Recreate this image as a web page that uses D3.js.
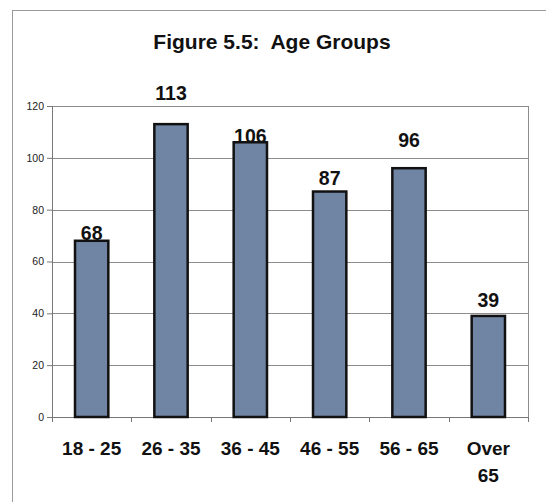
<!DOCTYPE html>
<html>
<head>
<meta charset="utf-8">
<script src="https://cdn.jsdelivr.net/npm/d3@7"></script>
<style>
  body { margin: 0; background: #fff; }
  svg { display: block; font-family: "Liberation Sans", Arial, sans-serif; }
</style>
</head>
<body>
<div id="chart"></div>
<script>
const title = "Figure 5.5:  Age Groups";
const categories = [["18 - 25"], ["26 - 35"], ["36 - 45"], ["46 - 55"], ["56 - 65"], ["Over", "65"]];
const counts = [68, 113, 106, 87, 96, 39];
const yTicks = [0, 20, 40, 60, 80, 100, 120];

// Excel put the value labels a little unevenly, nudge each one up from the bar top
const labelLift = [1, 24, -1, 7, 21, 9];

const W = 546, H = 502;
const margin = {top: 106, right: 18, bottom: 85, left: 52};
const plotW = W - margin.left - margin.right,
      plotH = H - margin.top - margin.bottom;

const svg = d3.select("#chart").append("svg")
    .attr("width", W)
    .attr("height", H);

// outer chart frame (runs off the right/bottom like the scan)
svg.append("rect")
    .attr("x", 12.5).attr("y", 10.5)
    .attr("width", W + 20).attr("height", H + 20)
    .attr("fill", "none")
    .attr("stroke", "#9a9a9a");

svg.append("text")
    .attr("x", 272)
    .attr("y", 49)
    .attr("text-anchor", "middle")
    .attr("font-size", 21)
    .attr("font-weight", "bold")
    .attr("fill", "#111")
    .style("white-space", "pre")
    .text(title);

const g = svg.append("g")
    .attr("transform", "translate(" + margin.left + "," + margin.top + ")");

const x = d3.scaleBand()
    .domain(d3.range(categories.length))
    .range([0, plotW])
    .paddingInner(0.58)
    .paddingOuter(0.29);

const y = d3.scaleLinear().domain([0, 120]).range([plotH, 0]);

// gridlines
g.selectAll(".grid").data(yTicks).enter()
    .append("line")
    .attr("class", "grid")
    .attr("x1", 0).attr("x2", plotW)
    .attr("y1", d => Math.round(y(d)) + 0.5)
    .attr("y2", d => Math.round(y(d)) + 0.5)
    .attr("stroke", "#8c8c8c");

// right edge of plot box
g.append("line")
    .attr("x1", plotW + 0.5).attr("x2", plotW + 0.5)
    .attr("y1", y(120)).attr("y2", plotH)
    .attr("stroke", "#8c8c8c");

// y axis
const yAxis = g.append("g")
    .call(d3.axisLeft(y).tickValues(yTicks).tickSize(5).tickPadding(3));
yAxis.select(".domain").attr("stroke", "#777");
yAxis.selectAll(".tick line").attr("stroke", "#777");
yAxis.selectAll("text")
    .attr("font-size", 10.5)
    .attr("font-family", "'Liberation Sans', Arial, sans-serif")
    .attr("fill", "#222");

// x axis with ticks at band edges
const edges = d3.range(categories.length + 1).map(i => i * x.step());
g.append("line")
    .attr("x1", 0).attr("x2", plotW)
    .attr("y1", plotH + 0.5).attr("y2", plotH + 0.5)
    .attr("stroke", "#777");
g.selectAll(".xtick").data(edges).enter()
    .append("line")
    .attr("class", "xtick")
    .attr("x1", d => Math.round(d) + 0.5).attr("x2", d => Math.round(d) + 0.5)
    .attr("y1", plotH).attr("y2", plotH + 5)
    .attr("stroke", "#777");

// bars
g.selectAll(".bar").data(counts).enter()
    .append("rect")
    .attr("class", "bar")
    .attr("x", (d, i) => x(i))
    .attr("y", d => y(d))
    .attr("width", x.bandwidth())
    .attr("height", d => plotH - y(d))
    .attr("fill", "#7084a3")
    .attr("stroke", "#111")
    .attr("stroke-width", 2.5);

// value labels
g.selectAll(".val").data(counts).enter()
    .append("text")
    .attr("class", "val")
    .attr("x", (d, i) => x(i) + x.bandwidth() / 2)
    .attr("y", (d, i) => y(d) - labelLift[i])
    .attr("text-anchor", "middle")
    .attr("font-size", 19.5)
    .attr("font-weight", "bold")
    .attr("fill", "#111")
    .text(d => d);

// category labels
const cat = g.selectAll(".cat").data(categories).enter()
    .append("text")
    .attr("class", "cat")
    .attr("text-anchor", "middle")
    .attr("font-size", 19)
    .attr("font-weight", "bold")
    .attr("fill", "#111")
    .attr("transform", (d, i) => "translate(" + (x(i) + x.bandwidth() / 2) + "," + (plotH + 38) + ")");
cat.selectAll("tspan").data(d => d).enter()
    .append("tspan")
    .attr("x", 0)
    .attr("dy", (d, i) => i ? 27 : 0)
    .text(d => d);
</script>
</body>
</html>
